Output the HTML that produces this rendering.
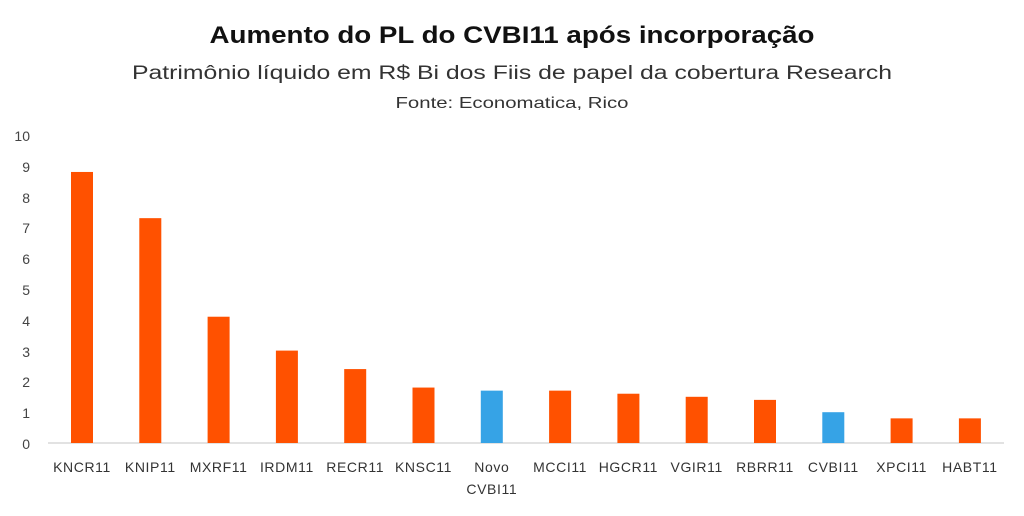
<!DOCTYPE html>
<html><head><meta charset="utf-8"><style>
body{margin:0;background:#fff;width:1024px;height:511px;overflow:hidden}
svg text{font-family:"Liberation Sans",sans-serif}
</style></head><body>
<svg width="1024" height="511" xmlns="http://www.w3.org/2000/svg">
<text x="512" y="43" text-anchor="middle" font-size="24" font-weight="bold" fill="#111" textLength="605" lengthAdjust="spacingAndGlyphs">Aumento do PL do CVBI11 após incorporação</text>
<text x="512" y="79" text-anchor="middle" font-size="19" fill="#333" textLength="760" lengthAdjust="spacingAndGlyphs">Patrimônio líquido em R$ Bi dos Fiis de papel da cobertura Research</text>
<text x="512" y="108" text-anchor="middle" font-size="16" fill="#333" textLength="233" lengthAdjust="spacingAndGlyphs">Fonte: Economatica, Rico</text>
<g font-size="14" fill="#444" text-anchor="end">
<text x="30" y="141">10</text><text x="30" y="172">9</text><text x="30" y="203">8</text><text x="30" y="233">7</text><text x="30" y="264">6</text><text x="30" y="295">5</text><text x="30" y="326">4</text><text x="30" y="357">3</text><text x="30" y="387">2</text><text x="30" y="418">1</text><text x="30" y="449">0</text>
</g>
<line x1="48" y1="443" x2="1004" y2="443" stroke="#d9d9d9" stroke-width="1.5"/>
<g id="bars"></g>
<g font-size="14" fill="#333" text-anchor="middle" id="labels" letter-spacing="0.6"></g>
<script>
var names=["KNCR11","KNIP11","MXRF11","IRDM11","RECR11","KNSC11","Novo","MCCI11","HGCR11","VGIR11","RBRR11","CVBI11","XPCI11","HABT11"];
var vals=[8.8,7.3,4.1,3.0,2.4,1.8,1.7,1.7,1.6,1.5,1.4,1.0,0.8,0.8];
var g=document.getElementById('bars'),l=document.getElementById('labels'),ns="http://www.w3.org/2000/svg";
for(var i=0;i<14;i++){var cx=82+i*68.3,h=vals[i]*30.8;
var r=document.createElementNS(ns,'rect');r.setAttribute('x',cx-11);r.setAttribute('y',443-h);r.setAttribute('width',22);r.setAttribute('height',h);
r.setAttribute('fill',(i==6||i==11)?'#36A3E6':'#FF5100');g.appendChild(r);
var t=document.createElementNS(ns,'text');t.setAttribute('x',cx);t.setAttribute('y',472);t.textContent=names[i];l.appendChild(t);
if(i==6){var t2=document.createElementNS(ns,'text');t2.setAttribute('x',cx);t2.setAttribute('y',494);t2.textContent='CVBI11';l.appendChild(t2);}}
</script>
</svg>
</body></html>
